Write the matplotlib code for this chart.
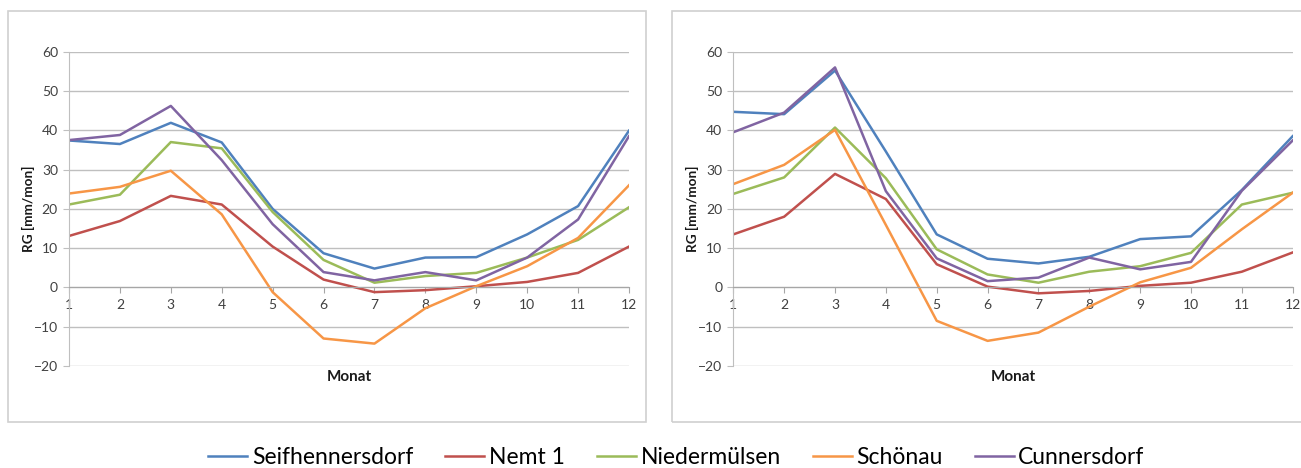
import matplotlib.pyplot as plt
from matplotlib.patches import Rectangle

plt.rcParams['font.family'] = ['Lato', 'DejaVu Sans']

months = list(range(1, 13))
stations = ['Seifhennersdorf', 'Nemt 1', 'Niedermülsen', 'Schönau', 'Cunnersdorf']
colors = ['#4F81BD', '#C0504D', '#9BBB59', '#F79646', '#8064A2']

# left panel
left_seif = [37.4, 36.5, 41.9, 36.9, 20.0, 8.7, 4.8, 7.6, 7.7, 13.5, 20.7, 39.9]
left_nemt = [13.1, 16.9, 23.3, 21.1, 10.4, 2.0, -1.2, -0.7, 0.3, 1.4, 3.7, 10.4]
left_nied = [21.1, 23.6, 37.0, 35.4, 19.2, 7.0, 1.2, 2.9, 3.7, 7.6, 12.1, 20.4]
left_scho = [23.9, 25.6, 29.7, 18.6, -1.2, -13.0, -14.3, -5.3, 0.3, 5.4, 12.6, 26.0]
left_cunn = [37.5, 38.8, 46.2, 32.4, 16.1, 3.9, 1.8, 3.9, 1.8, 7.6, 17.3, 38.5]

# right panel
right_seif = [44.7, 44.1, 55.2, 34.6, 13.5, 7.3, 6.1, 7.8, 12.3, 13.0, 24.8, 38.5]
right_nemt = [13.5, 18.0, 28.9, 22.5, 5.9, 0.2, -1.5, -0.9, 0.4, 1.2, 4.0, 8.9]
right_nied = [23.8, 28.0, 40.7, 27.8, 9.7, 3.3, 1.2, 4.0, 5.4, 8.8, 21.1, 24.1]
right_scho = [26.3, 31.2, 40.1, 15.9, -8.5, -13.6, -11.5, -4.9, 1.3, 5.0, 14.8, 24.1]
right_cunn = [39.5, 44.5, 56.0, 24.5, 7.4, 1.6, 2.5, 7.6, 4.6, 6.5, 24.6, 37.4]

left_data = [left_seif, left_nemt, left_nied, left_scho, left_cunn]
right_data = [right_seif, right_nemt, right_nied, right_scho, right_cunn]

W, H = 1301, 468
fig = plt.figure(figsize=(W / 100, H / 100), dpi=100)

# chart frames
for x0, x1 in [(8, 646), (672, 1320)]:
    fig.patches.append(Rectangle((x0 / W, (H - 422) / H), (x1 - x0) / W, 411 / H,
                                 transform=fig.transFigure, fill=False,
                                 edgecolor='#D0D0D0', lw=1.2))


def draw_panel(ax, data):
    for vals, c, name in zip(data, colors, stations):
        ax.plot(months, vals, color=c, lw=1.8, label=name)
    ax.set_xlim(1, 12)
    ax.set_ylim(-20, 60)
    ax.set_xticks(months)
    ax.set_yticks(range(-20, 61, 10))
    ax.grid(axis='y', color='#BFBFBF', lw=1)
    ax.set_axisbelow(True)
    for s in ['top', 'right']:
        ax.spines[s].set_visible(False)
    ax.spines['bottom'].set_position(('data', 0))
    ax.spines['bottom'].set_color('#A6A6A6')
    ax.spines['left'].set_color('#BFBFBF')
    ax.tick_params(axis='x', colors='#A6A6A6', labelcolor='#404040', length=4,
                   labelsize=10, pad=4)
    ax.tick_params(axis='y', colors='#BFBFBF', labelcolor='#404040', length=4,
                   labelsize=10, pad=4)
    ax.text(0.5, -0.035, 'Monat', transform=ax.transAxes, ha='center', va='center',
            fontsize=11, fontweight='bold', color='#1a1a1a')
    ax.text(-0.073, 0.5, 'RG [mm/mon]', transform=ax.transAxes, ha='center',
            va='center', rotation=90, fontsize=9.8, fontweight='bold', color='#1a1a1a')


ax1 = fig.add_axes([69 / W, (H - 366) / H, 560 / W, 314.3 / H])
ax2 = fig.add_axes([733.3 / W, (H - 366) / H, 559.4 / W, 314.3 / H])
draw_panel(ax1, left_data)
draw_panel(ax2, right_data)

handles, labels = ax1.get_legend_handles_labels()
fig.legend(handles, labels, loc='center', bbox_to_anchor=(0.520, 1 - 458 / H),
           ncol=5, frameon=False, fontsize=16.5, handlelength=1.7, handletextpad=0.2,
           columnspacing=1.4)

fig.savefig('out.png', dpi=100, facecolor='white')
